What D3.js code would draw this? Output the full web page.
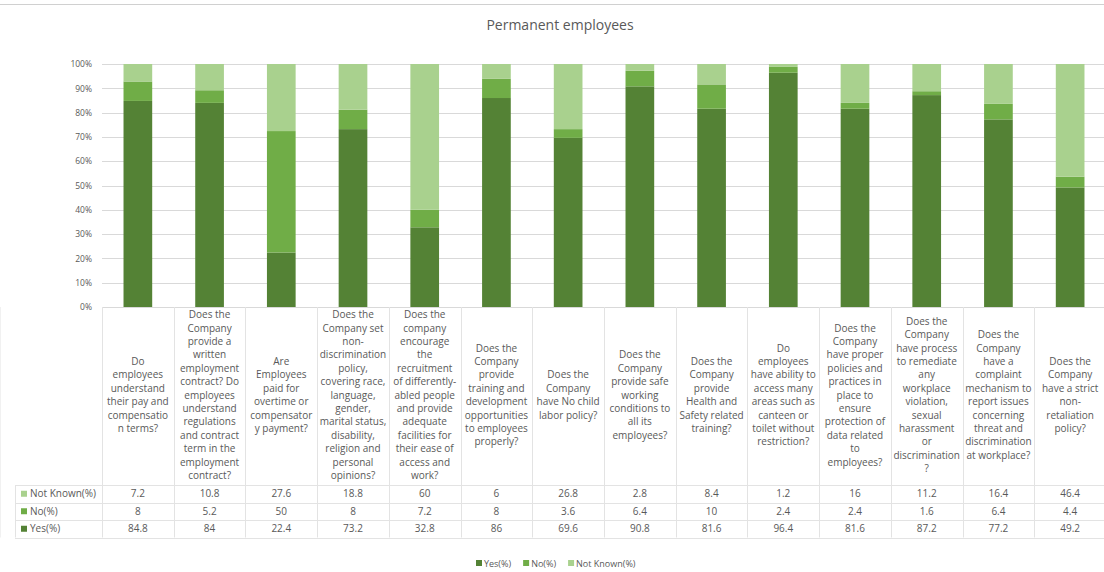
<!DOCTYPE html>
<html>
<head>
<meta charset="utf-8">
<script src="https://cdn.jsdelivr.net/npm/d3@7"></script>
<style>
  html, body { margin: 0; padding: 0; background: #fff; }
  svg { display: block; font-family: "Open Sans", "Noto Sans", sans-serif; }
</style>
</head>
<body>
<svg id="chart" width="1104" height="572"></svg>
<script>
// Survey questions (one line per array entry)
const categories = [
  ["Do", "employees", "understand", "their pay and", "compensatio", "n terms?"],
  ["Does the", "Company", "provide a", "written", "employment", "contract? Do", "employees", "understand", "regulations", "and contract", "term in the", "employment", "contract?"],
  ["Are", "Employees", "paid for", "overtime or", "compensator", "y payment?"],
  ["Does the", "Company set", "non-", "discrimination", "policy,", "covering race,", "language,", "gender,", "marital status,", "disability,", "religion and", "personal", "opinions?"],
  ["Does the", "company", "encourage", "the", "recruitment", "of differently-", "abled people", "and provide", "adequate", "facilities for", "their ease of", "access and", "work?"],
  ["Does the", "Company", "provide", "training and", "development", "opportunities", "to employees", "properly?"],
  ["Does the", "Company", "have No child", "labor policy?"],
  ["Does the", "Company", "provide safe", "working", "conditions to", "all its", "employees?"],
  ["Does the", "Company", "provide", "Health and", "Safety related", "training?"],
  ["Do", "employees", "have ability to", "access many", "areas such as", "canteen or", "toilet without", "restriction?"],
  ["Does the", "Company", "have proper", "policies and", "practices in", "place to", "ensure", "protection of", "data related", "to", "employees?"],
  ["Does the", "Company", "have process", "to remediate", "any", "workplace", "violation,", "sexual", "harassment", "or", "discrimination", "?"],
  ["Does the", "Company", "have a", "complaint", "mechanism to", "report issues", "concerning", "threat and", "discrimination", "at workplace?"],
  ["Does the", "Company", "have a strict", "non-", "retaliation", "policy?"]
];

const seriesNames = ["Yes(%)", "No(%)", "Not Known(%)"];
const yesValues = [84.8, 84, 22.4, 73.2, 32.8, 86, 69.6, 90.8, 81.6, 96.4, 81.6, 87.2, 77.2, 49.2];
const noValues = [8, 5.2, 50, 8, 7.2, 8, 3.6, 6.4, 10, 2.4, 2.4, 1.6, 6.4, 4.4];
const notKnownValues = [7.2, 10.8, 27.6, 18.8, 60, 6, 26.8, 2.8, 8.4, 1.2, 16, 11.2, 16.4, 46.4];
const yTicks = [0, 0.1, 0.2, 0.3, 0.4, 0.5, 0.6, 0.7, 0.8, 0.9, 1];
const chartTitle = "Permanent employees";

const colors = ["#548235", "#70AD47", "#A9D18E"];
const textColor = "#595959";
const gridColor = "#d9d9d9";

const svg = d3.select("#chart");

// table rows, built from the series arrays
const rows = categories.map((c, i) => ({
  idx: i,
  label: c,
  "Yes(%)": yesValues[i],
  "No(%)": noValues[i],
  "Not Known(%)": notKnownValues[i]
}));

const x = d3.scaleBand()
  .domain(d3.range(categories.length))
  .range([102, 1106])
  .paddingInner(0.6)
  .paddingOuter(0.3);
const step = x.step();
const colLeft = i => x(i) - x.paddingInner() * step / 2;

const y = d3.scaleLinear().domain([0, 1]).range([307, 64]);

// outer frame line at top
svg.append("line").attr("x1", 0).attr("x2", 1104).attr("y1", 4.5).attr("y2", 4.5)
  .attr("stroke", "#d0d0d0").attr("stroke-width", 1.2);

// title
svg.append("text")
  .attr("x", 560).attr("y", 30)
  .attr("text-anchor", "middle")
  .attr("font-size", 14)
  .attr("fill", textColor)
  .text(chartTitle);

// gridlines
svg.append("g")
  .selectAll("line")
  .data(yTicks)
  .join("line")
  .attr("x1", 102).attr("x2", 1104)
  .attr("y1", d => Math.round(y(d)) + 0.5)
  .attr("y2", d => Math.round(y(d)) + 0.5)
  .attr("stroke", gridColor).attr("stroke-width", 1);

// y axis labels
const yAxis = d3.axisLeft(y).tickValues(yTicks).tickFormat(d3.format(".0%")).tickSize(0).tickPadding(6);
const yAxisG = svg.append("g").attr("transform", "translate(98,0)").call(yAxis);
yAxisG.select(".domain").remove();
yAxisG.selectAll("text").attr("fill", textColor).attr("font-size", 8.5)
  .attr("font-family", "\"Open Sans\", sans-serif");

// stacked bars
const stack = d3.stack().keys(seriesNames).offset(d3.stackOffsetExpand);
const layers = stack(rows);

svg.append("g")
  .selectAll("g")
  .data(layers)
  .join("g")
  .attr("fill", (d, i) => colors[i])
  .selectAll("rect")
  .data(d => d)
  .join("rect")
  .attr("x", d => x(d.data.idx))
  .attr("width", x.bandwidth())
  .attr("y", d => y(d[1]))
  .attr("height", d => y(d[0]) - y(d[1]));

// data table grid
const tableTop = 307;
const headerBottom = 485;
const rowH = 17.5;
const tableRows = ["Not Known(%)", "No(%)", "Yes(%)"];
const rowColor = { "Yes(%)": colors[0], "No(%)": colors[1], "Not Known(%)": colors[2] };
const tableBottom = headerBottom + rowH * tableRows.length;

const grid = svg.append("g").attr("stroke", "#e3e3e3").attr("stroke-width", 1);
d3.range(categories.length + 1).forEach(i => {
  const xx = Math.round(colLeft(i)) + 0.5;
  grid.append("line").attr("x1", xx).attr("x2", xx).attr("y1", tableTop).attr("y2", tableBottom);
});
d3.range(tableRows.length + 1).forEach(r => {
  const yy = Math.round(headerBottom + r * rowH) + 0.5;
  grid.append("line").attr("x1", 15).attr("x2", 1104).attr("y1", yy).attr("y2", yy);
});
grid.append("line").attr("x1", 15.5).attr("x2", 15.5).attr("y1", headerBottom).attr("y2", tableBottom);

// category labels, wrapped, centred in the header band
const lineH = 13.4;
const labelCenter = 395;
const labelG = svg.append("g")
  .attr("fill", textColor).attr("font-size", 10).attr("text-anchor", "middle");
rows.forEach(r => {
  const n = r.label.length;
  const top = labelCenter - (n - 1) * lineH / 2;
  const t = labelG.append("text")
    .attr("x", x(r.idx) + x.bandwidth() / 2)
    .attr("y", top + 3.5);
  r.label.forEach((ln, k) => {
    t.append("tspan").attr("x", x(r.idx) + x.bandwidth() / 2)
      .attr("y", top + k * lineH + 3.5).text(ln);
  });
});

// table rows: legend key + values
tableRows.forEach((key, ri) => {
  const cy = headerBottom + ri * rowH + rowH / 2;
  svg.append("rect").attr("x", 21).attr("y", cy - 3).attr("width", 6).attr("height", 6)
    .attr("fill", rowColor[key]);
  svg.append("text").attr("x", 30).attr("y", cy + 3.5)
    .attr("font-size", 10).attr("fill", textColor).text(key);
  svg.append("g").selectAll("text")
    .data(rows)
    .join("text")
    .attr("x", d => x(d.idx) + x.bandwidth() / 2)
    .attr("y", cy + 3.5)
    .attr("text-anchor", "middle")
    .attr("font-size", 10)
    .attr("fill", textColor)
    .text(d => d[key]);
});

// legend
const legendItems = seriesNames.map((s, i) => ({ name: s, color: colors[i] }));
const legend = svg.append("g").attr("font-size", 9).attr("fill", textColor);
let lx = 476;
legendItems.forEach(it => {
  legend.append("rect").attr("x", lx).attr("y", 560).attr("width", 6).attr("height", 6).attr("fill", it.color);
  const t = legend.append("text").attr("x", lx + 8).attr("y", 566.5).text(it.name);
  lx += t.node().getComputedTextLength() + 20;
});
</script>
</body>
</html>
